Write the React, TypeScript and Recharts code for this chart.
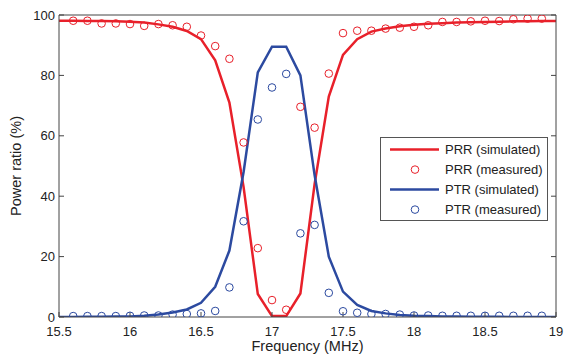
import React from 'react';
import { ComposedChart, Line, Scatter, XAxis, YAxis, Legend } from 'recharts';

// simulated curves (0.1 MHz grid)
const simFreq = [
  15.5, 15.6, 15.7, 15.8, 15.9, 16.0, 16.1, 16.2, 16.3, 16.4, 16.5, 16.6,
  16.7, 16.8, 16.9, 17.0, 17.1, 17.2, 17.3, 17.4, 17.5, 17.6, 17.7, 17.8,
  17.9, 18.0, 18.1, 18.2, 18.3, 18.4, 18.5, 18.6, 18.7, 18.8, 18.9, 19.0,
];
const prrSim = [
  98.1, 98.1, 98.0, 98.0, 97.9, 97.8, 97.5, 96.9, 96.1, 94.7, 92.0, 85.0,
  71.0, 43.0, 7.6, 0.3, 0.3, 7.8, 44.0, 73.0, 86.8, 92.0, 94.5, 95.5,
  96.3, 96.8, 97.1, 97.3, 97.5, 97.6, 97.7, 97.8, 97.9, 97.9, 98.0, 98.0,
];
const ptrSim = [
  0, 0, 0.1, 0.1, 0.2, 0.2, 0.4, 0.8, 1.5, 2.5, 4.7, 10.0,
  22.0, 48.0, 81.0, 89.5, 89.5, 80.0, 47.0, 20.0, 8.4, 4.0, 2.0, 1.2,
  0.7, 0.4, 0.3, 0.2, 0.2, 0.1, 0.1, 0.1, 0, 0, 0, 0,
];

// measured points
const measFreq = [
  15.6, 15.7, 15.8, 15.9, 16.0, 16.1, 16.2, 16.3, 16.4, 16.5,
  16.6, 16.7, 16.8, 16.9, 17.0, 17.1, 17.2, 17.3, 17.4, 17.5,
  17.6, 17.7, 17.8, 17.9, 18.0, 18.1, 18.2, 18.3, 18.4, 18.5,
  18.6, 18.7, 18.8, 18.9,
];
const prrMeas = [
  98.1, 98.1, 97.2, 97.2, 97.0, 96.4, 97.0, 96.6, 96.1, 93.2,
  89.7, 85.5, 57.8, 22.8, 5.6, 2.4, 69.6, 62.7, 80.6, 94.0,
  94.8, 94.8, 95.5, 95.8, 96.1, 96.6, 97.7, 97.7, 97.9, 98.1,
  98.0, 98.6, 98.8, 98.8,
];
const ptrMeas = [
  0.3, 0.3, 0.3, 0.3, 0.4, 0.5, 0.5, 0.8, 1.0, 1.2,
  2.0, 9.8, 31.7, 65.4, 76.0, 80.5, 27.7, 30.5, 8.0, 1.9,
  1.4, 1.0, 1.0, 0.8, 0.5, 0.5, 0.4, 0.4, 0.4, 0.4,
  0.4, 0.4, 0.4, 0.4,
];

const xTicks = [15.5, 16, 16.5, 17, 17.5, 18, 18.5, 19];
const yTicks = [0, 20, 40, 60, 80, 100];

const RED = '#e8202a';
const BLUE = '#2c4aa0';
const AXIS = '#444';
const FONT = '"Liberation Sans", Arial, sans-serif';

const simData = simFreq.map((f, i) => ({ f, prr: prrSim[i], ptr: ptrSim[i] }));
const measData = measFreq.map((f, i) => ({ f, prr: prrMeas[i], ptr: ptrMeas[i] }));

const legendItems = [
  { label: 'PRR (simulated)', color: RED, kind: 'line' },
  { label: 'PRR (measured)', color: RED, kind: 'circle' },
  { label: 'PTR (simulated)', color: BLUE, kind: 'line' },
  { label: 'PTR (measured)', color: BLUE, kind: 'circle' },
];

const ring = (color: string) => (props: any) => {
  const { cx, cy } = props;
  if (cx == null || cy == null) return <g />;
  return <circle cx={cx} cy={cy} r={3.8} fill="none" stroke={color} strokeWidth={1} />;
};

const MatlabLegend = () => (
  <svg width={168} height={84} style={{ display: 'block' }}>
    <rect x={0.5} y={0.5} width={167} height={83} fill="#fff" stroke="#555" />
    {legendItems.map((it, i) => {
      const cy = 12.6 + i * 20;
      return (
        <g key={it.label}>
          {it.kind === 'line' ? (
            <line x1={10} x2={59} y1={cy} y2={cy} stroke={it.color} strokeWidth={2.5} />
          ) : (
            <circle cx={35} cy={cy} r={3.8} fill="none" stroke={it.color} strokeWidth={1} />
          )}
          <text x={65} y={cy} dy="0.35em" fontSize={13} fill="#222" fontFamily={FONT}>
            {it.label}
          </text>
        </g>
      );
    })}
  </svg>
);

export default function App() {
  return (
    <div style={{ position: 'absolute', left: 0, top: 0 }}>
      <ComposedChart
        width={566}
        height={356}
        margin={{ top: 0, right: 0, bottom: 0, left: 0 }}
        style={{ fontFamily: FONT, background: '#fff' }}
      >
        <XAxis
          xAxisId="bottom"
          dataKey="f"
          type="number"
          domain={[15.5, 19]}
          ticks={xTicks}
          allowDataOverflow
          height={39}
          stroke={AXIS}
          tickSize={-5}
          tickMargin={15}
          tick={{ fill: '#222', fontSize: 13 }}
          label={{ value: 'Frequency (MHz)', position: 'insideBottom', offset: 5, fill: '#222', fontSize: 14.5 }}
        />
        <XAxis
          xAxisId="top"
          orientation="top"
          type="number"
          domain={[15.5, 19]}
          ticks={xTicks}
          allowDataOverflow
          height={15}
          stroke={AXIS}
          tickSize={-5}
          tickFormatter={() => ''}
        />
        <YAxis
          yAxisId="left"
          type="number"
          domain={[0, 100]}
          ticks={yTicks}
          allowDataOverflow
          width={59}
          stroke={AXIS}
          tickSize={-5}
          tickMargin={9}
          tick={{ fill: '#222', fontSize: 13 }}
          label={{
            value: 'Power ratio (%)',
            angle: -90,
            position: 'insideLeft',
            offset: 15.5,
            fill: '#222',
            fontSize: 14.5,
            style: { textAnchor: 'middle' },
          }}
        />
        <YAxis
          yAxisId="right"
          orientation="right"
          type="number"
          domain={[0, 100]}
          ticks={yTicks}
          allowDataOverflow
          width={10}
          stroke={AXIS}
          tickSize={-5}
          tickFormatter={() => ''}
        />
        <Line
          xAxisId="bottom"
          yAxisId="left"
          data={simData}
          dataKey="prr"
          name="PRR (simulated)"
          type="linear"
          stroke={RED}
          strokeWidth={2.5}
          dot={false}
          isAnimationActive={false}
        />
        <Scatter
          xAxisId="bottom"
          yAxisId="left"
          data={measData}
          dataKey="prr"
          name="PRR (measured)"
          shape={ring(RED)}
          isAnimationActive={false}
        />
        <Line
          xAxisId="bottom"
          yAxisId="left"
          data={simData}
          dataKey="ptr"
          name="PTR (simulated)"
          type="linear"
          stroke={BLUE}
          strokeWidth={2.5}
          dot={false}
          isAnimationActive={false}
        />
        <Scatter
          xAxisId="bottom"
          yAxisId="left"
          data={measData}
          dataKey="ptr"
          name="PTR (measured)"
          shape={ring(BLUE)}
          isAnimationActive={false}
        />
        <Legend
          content={<MatlabLegend />}
          layout="horizontal"
          verticalAlign="middle"
          align="center"
          wrapperStyle={{ left: 380, top: 136.7, width: 168, height: 84 }}
        />
      </ComposedChart>
    </div>
  );
}
